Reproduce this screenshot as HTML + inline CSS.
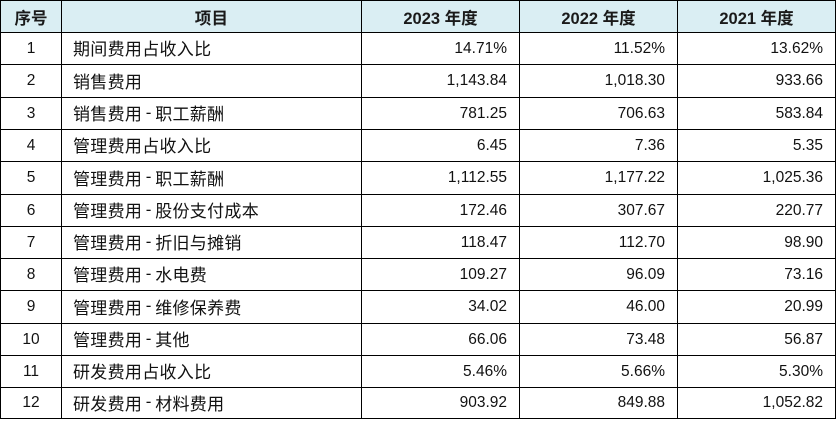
<!DOCTYPE html>
<html>
<head>
<meta charset="utf-8">
<style>
html,body{margin:0;padding:0;background:#fff;}
#c{position:relative;width:837px;height:421px;overflow:hidden;background:#fff;}
.h{position:absolute;left:0;width:836px;height:1px;background:#000;}
.v{position:absolute;top:0;width:1px;height:419px;background:#000;}
.hdr{position:absolute;left:0;top:0;width:836px;height:32px;background:#daeef3;}
.row{position:absolute;left:0;width:836px;}
.cell{position:absolute;top:0;height:100%;display:flex;align-items:center;box-sizing:border-box;white-space:nowrap;color:#111;}
.c1{left:1px;width:60px;justify-content:center;font-family:"Liberation Sans",Arial,sans-serif;font-size:15.5px;}
.c2{left:62px;width:299px;padding-left:11px;padding-bottom:2px;font-family:"Liberation Sans","Noto Sans CJK SC",sans-serif;font-size:17px;letter-spacing:0.3px;}
.c3{left:362px;width:157px;justify-content:flex-end;padding-right:12px;font-family:"Liberation Sans",Arial,sans-serif;font-size:15.5px;}
.c4{left:520px;width:157px;justify-content:flex-end;padding-right:12px;font-family:"Liberation Sans",Arial,sans-serif;font-size:15.5px;}
.c5{left:678px;width:157px;justify-content:flex-end;padding-right:12px;font-family:"Liberation Sans",Arial,sans-serif;font-size:15.5px;}
.th .cell{justify-content:center;padding:0;font-weight:bold;font-family:"Liberation Sans","Noto Sans CJK SC",sans-serif;font-size:16.5px;color:#1a1a1a;}
.hy{display:inline-block;width:13px;text-align:center;}
</style>
</head>
<body>
<div id="c">
<div class="hdr"></div>

<div class="row th" style="top:1px;height:31px;">
<div class="cell c1">序号</div>
<div class="cell c2">项目</div>
<div class="cell c3">2023 年度</div>
<div class="cell c4">2022 年度</div>
<div class="cell c5">2021 年度</div>
</div>

<div class="row" style="top:33px;height:31px;">
<div class="cell c1">1</div><div class="cell c2">期间费用占收入比</div>
<div class="cell c3">14.71%</div><div class="cell c4">11.52%</div><div class="cell c5">13.62%</div>
</div>
<div class="row" style="top:65px;height:32px;">
<div class="cell c1">2</div><div class="cell c2">销售费用</div>
<div class="cell c3">1,143.84</div><div class="cell c4">1,018.30</div><div class="cell c5">933.66</div>
</div>
<div class="row" style="top:98px;height:31px;">
<div class="cell c1">3</div><div class="cell c2">销售费用<span class="hy">-</span>职工薪酬</div>
<div class="cell c3">781.25</div><div class="cell c4">706.63</div><div class="cell c5">583.84</div>
</div>
<div class="row" style="top:130px;height:31px;">
<div class="cell c1">4</div><div class="cell c2">管理费用占收入比</div>
<div class="cell c3">6.45</div><div class="cell c4">7.36</div><div class="cell c5">5.35</div>
</div>
<div class="row" style="top:162px;height:32px;">
<div class="cell c1">5</div><div class="cell c2">管理费用<span class="hy">-</span>职工薪酬</div>
<div class="cell c3">1,112.55</div><div class="cell c4">1,177.22</div><div class="cell c5">1,025.36</div>
</div>
<div class="row" style="top:195px;height:31px;">
<div class="cell c1">6</div><div class="cell c2">管理费用<span class="hy">-</span>股份支付成本</div>
<div class="cell c3">172.46</div><div class="cell c4">307.67</div><div class="cell c5">220.77</div>
</div>
<div class="row" style="top:227px;height:31px;">
<div class="cell c1">7</div><div class="cell c2">管理费用<span class="hy">-</span>折旧与摊销</div>
<div class="cell c3">118.47</div><div class="cell c4">112.70</div><div class="cell c5">98.90</div>
</div>
<div class="row" style="top:259px;height:31px;">
<div class="cell c1">8</div><div class="cell c2">管理费用<span class="hy">-</span>水电费</div>
<div class="cell c3">109.27</div><div class="cell c4">96.09</div><div class="cell c5">73.16</div>
</div>
<div class="row" style="top:291px;height:32px;">
<div class="cell c1">9</div><div class="cell c2">管理费用<span class="hy">-</span>维修保养费</div>
<div class="cell c3">34.02</div><div class="cell c4">46.00</div><div class="cell c5">20.99</div>
</div>
<div class="row" style="top:324px;height:31px;">
<div class="cell c1">10</div><div class="cell c2">管理费用<span class="hy">-</span>其他</div>
<div class="cell c3">66.06</div><div class="cell c4">73.48</div><div class="cell c5">56.87</div>
</div>
<div class="row" style="top:356px;height:31px;">
<div class="cell c1">11</div><div class="cell c2">研发费用占收入比</div>
<div class="cell c3">5.46%</div><div class="cell c4">5.66%</div><div class="cell c5">5.30%</div>
</div>
<div class="row" style="top:388px;height:30px;">
<div class="cell c1">12</div><div class="cell c2">研发费用<span class="hy">-</span>材料费用</div>
<div class="cell c3">903.92</div><div class="cell c4">849.88</div><div class="cell c5">1,052.82</div>
</div>

<div class="h" style="top:0;"></div>
<div class="h" style="top:32px;"></div>
<div class="h" style="top:64px;"></div>
<div class="h" style="top:97px;"></div>
<div class="h" style="top:129px;"></div>
<div class="h" style="top:161px;"></div>
<div class="h" style="top:194px;"></div>
<div class="h" style="top:226px;"></div>
<div class="h" style="top:258px;"></div>
<div class="h" style="top:290px;"></div>
<div class="h" style="top:323px;"></div>
<div class="h" style="top:355px;"></div>
<div class="h" style="top:387px;"></div>
<div class="h" style="top:418px;"></div>

<div class="v" style="left:0;"></div>
<div class="v" style="left:61px;"></div>
<div class="v" style="left:361px;"></div>
<div class="v" style="left:519px;"></div>
<div class="v" style="left:677px;"></div>
<div class="v" style="left:835px;"></div>
</div>
</body>
</html>
